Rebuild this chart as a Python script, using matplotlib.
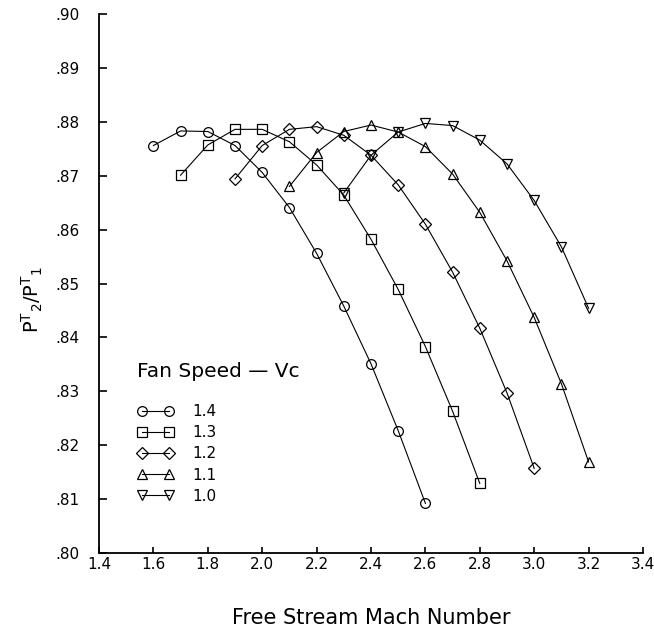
import numpy as np
import matplotlib
matplotlib.use('Agg')
import matplotlib.pyplot as plt
from matplotlib.ticker import FuncFormatter

plt.rcParams['font.family'] = ['DejaVu Sans']
plt.rcParams['mathtext.fontset'] = 'dejavusans'

# Fan speed series (free stream Mach number vs. PT2/PT1)
mach_14 = [1.6, 1.7, 1.8, 1.9, 2.0, 2.1, 2.2, 2.3, 2.4, 2.5, 2.6]
pt_14 = [.8756, .8783, .8782, .8756, .8706, .8641, .8556, .8458, .8351, .8227, .8092]

mach_13 = [1.7, 1.8, 1.9, 2.0, 2.1, 2.2, 2.3, 2.4, 2.5, 2.6, 2.7, 2.8]
pt_13 = [.8701, .8757, .8786, .8786, .8763, .8720, .8664, .8582, .8489, .8383, .8263, .8129]

mach_12 = [1.9, 2.0, 2.1, 2.2, 2.3, 2.4, 2.5, 2.6, 2.7, 2.8, 2.9, 3.0]
pt_12 = [.8694, .8756, .8786, .8791, .8775, .8738, .8683, .8610, .8521, .8417, .8297, .8157]

mach_11 = [2.1, 2.2, 2.3, 2.4, 2.5, 2.6, 2.7, 2.8, 2.9, 3.0, 3.1, 3.2]
pt_11 = [.8680, .8743, .8782, .8794, .8781, .8754, .8703, .8632, .8542, .8437, .8314, .8169]

mach_10 = [2.3, 2.4, 2.5, 2.6, 2.7, 2.8, 2.9, 3.0, 3.1, 3.2]
pt_10 = [.8668, .8738, .8781, .8797, .8793, .8766, .8722, .8654, .8568, .8454]

series = [
    (mach_14, pt_14, 'o', '1.4'),
    (mach_13, pt_13, 's', '1.3'),
    (mach_12, pt_12, 'D', '1.2'),
    (mach_11, pt_11, '^', '1.1'),
    (mach_10, pt_10, 'v', '1.0'),
]

fig = plt.figure(figsize=(6.54, 6.36), dpi=100)
ax = fig.add_axes([99 / 654, 83 / 636, 544 / 654, 539 / 636])

for xs, ys, mk, lab in series:
    ms = 6 if mk == 'D' else 7
    ax.plot(xs, ys, color='black', linewidth=0.8, marker=mk, markersize=ms,
            fillstyle='none', markeredgewidth=0.9, label=lab)

ax.set_xlim(1.4, 3.4)
ax.set_ylim(0.80, 0.90)
ax.set_xticks(np.arange(1.4, 3.41, 0.2))
ax.set_yticks(np.arange(0.80, 0.901, 0.01))
ax.xaxis.set_major_formatter(FuncFormatter(lambda v, p: f'{v:.1f}'))
ax.yaxis.set_major_formatter(FuncFormatter(lambda v, p: f'{v:.2f}'[1:]))

for s in ['top', 'right']:
    ax.spines[s].set_visible(False)
for s in ['left', 'bottom']:
    ax.spines[s].set_linewidth(1.3)

ax.tick_params(axis='y', direction='in', length=6, width=1.2, pad=14, labelsize=11)
ax.tick_params(axis='x', direction='in', length=4.5, width=1.2, pad=3, labelsize=11)

ax.set_xlabel('Free Stream Mach Number', fontsize=15)
ax.xaxis.set_label_coords(0.5, -0.102)
ax.set_ylabel(r'P$^{\mathrm{T}}$$_{2}$/P$^{\mathrm{T}}$$_{1}$', fontsize=14)
ax.yaxis.set_label_coords(-0.10, 0.47)

ax.text(0.0699, 0.336, 'Fan Speed \u2014 Vc', transform=ax.transAxes,
        fontsize=14.5, va='center', ha='left')
ax.legend(loc='upper left', bbox_to_anchor=(0.0706, 0.276), frameon=False,
          fontsize=11, numpoints=2, handlelength=2.4, handletextpad=1.2,
          labelspacing=0.4, borderpad=0, borderaxespad=0)

fig.savefig('out.png', dpi=100)
